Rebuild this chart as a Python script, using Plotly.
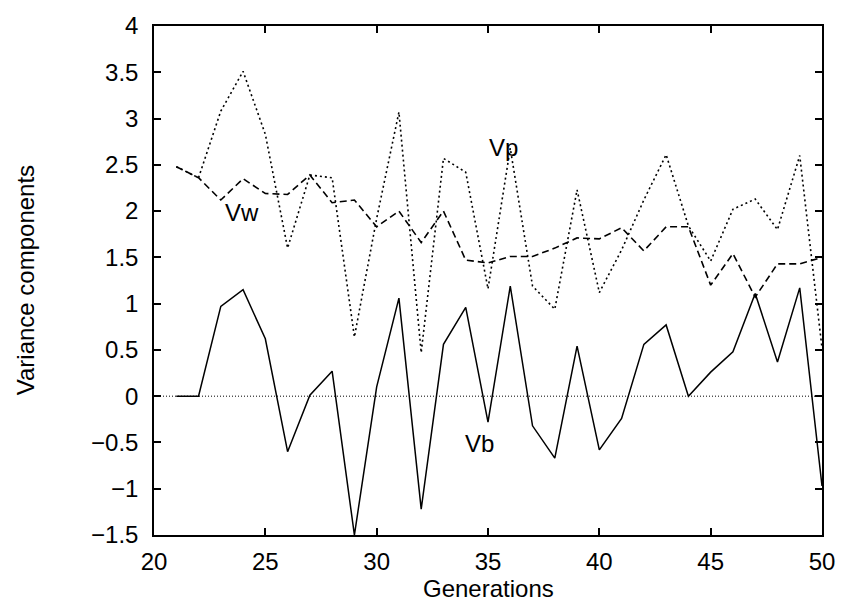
import plotly.graph_objects as go

generations = list(range(21, 51))
vb = [0.0, 0.0, 0.97, 1.15, 0.62, -0.60, 0.01, 0.27, -1.50, 0.10,
      1.06, -1.22, 0.56, 0.96, -0.28, 1.19, -0.32, -0.67, 0.54, -0.58,
      -0.24, 0.56, 0.77, 0.0, 0.26, 0.48, 1.11, 0.37, 1.17, -0.97]
vw = [2.48, 2.36, 2.12, 2.35, 2.19, 2.18, 2.39, 2.09, 2.12, 1.83,
      2.00, 1.66, 2.00, 1.47, 1.44, 1.51, 1.51, 1.60, 1.71, 1.70,
      1.82, 1.57, 1.83, 1.83, 1.20, 1.54, 1.07, 1.43, 1.43, 1.50]
vp = [2.48, 2.36, 3.08, 3.51, 2.83, 1.60, 2.39, 2.36, 0.64, 1.92,
      3.07, 0.47, 2.57, 2.42, 1.16, 2.68, 1.19, 0.94, 2.23, 1.12,
      1.58, 2.12, 2.61, 1.84, 1.46, 2.02, 2.13, 1.80, 2.60, 0.52]

labels = [("Vw", 23.95, 1.99), ("Vp", 35.7, 2.69), ("Vb", 34.6, -0.51)]

FONT = "Liberation Sans, Arial, Helvetica, sans-serif"

fig = go.Figure()
fig.add_hline(y=0, line=dict(color="black", width=1, dash="1px,2px"))
fig.add_trace(go.Scatter(x=generations, y=vp, mode="lines",
                         line=dict(color="black", width=1.6, dash="2px,3px"), name="Vp"))
fig.add_trace(go.Scatter(x=generations, y=vw, mode="lines",
                         line=dict(color="black", width=1.6, dash="7px,4px"), name="Vw"))
fig.add_trace(go.Scatter(x=generations, y=vb, mode="lines",
                         line=dict(color="black", width=1.5), name="Vb"))

for t, x, y in labels:
    fig.add_annotation(x=x, y=y, text=t, showarrow=False,
                       font=dict(size=24, color="black", family=FONT))

axis_common = dict(showline=True, linecolor="black", linewidth=1.5, mirror="ticks",
                   ticks="inside", ticklen=7, tickwidth=1.5, tickcolor="black",
                   showgrid=False, zeroline=False,
                   tickfont=dict(size=24, color="black", family=FONT))

fig.update_xaxes(range=[20, 50], dtick=5, tick0=20, ticklabelstandoff=4, **axis_common)
fig.update_yaxes(range=[-1.5, 4], dtick=0.5, tick0=0, ticklabelstandoff=9, **axis_common)

fig.add_annotation(xref="paper", yref="paper", x=0.5, y=-0.075, yanchor="top",
                   text="Generations", showarrow=False,
                   font=dict(size=24, color="black", family=FONT))
fig.add_annotation(xref="paper", yref="paper", x=-0.192, y=0.5, xanchor="center",
                   text="Variance components", showarrow=False, textangle=-90,
                   font=dict(size=24, color="black", family=FONT))

fig.update_layout(width=847, height=604, showlegend=False,
                  plot_bgcolor="white", paper_bgcolor="white",
                  margin=dict(l=154, r=17, t=19, b=69))

fig.write_html("out.html")
